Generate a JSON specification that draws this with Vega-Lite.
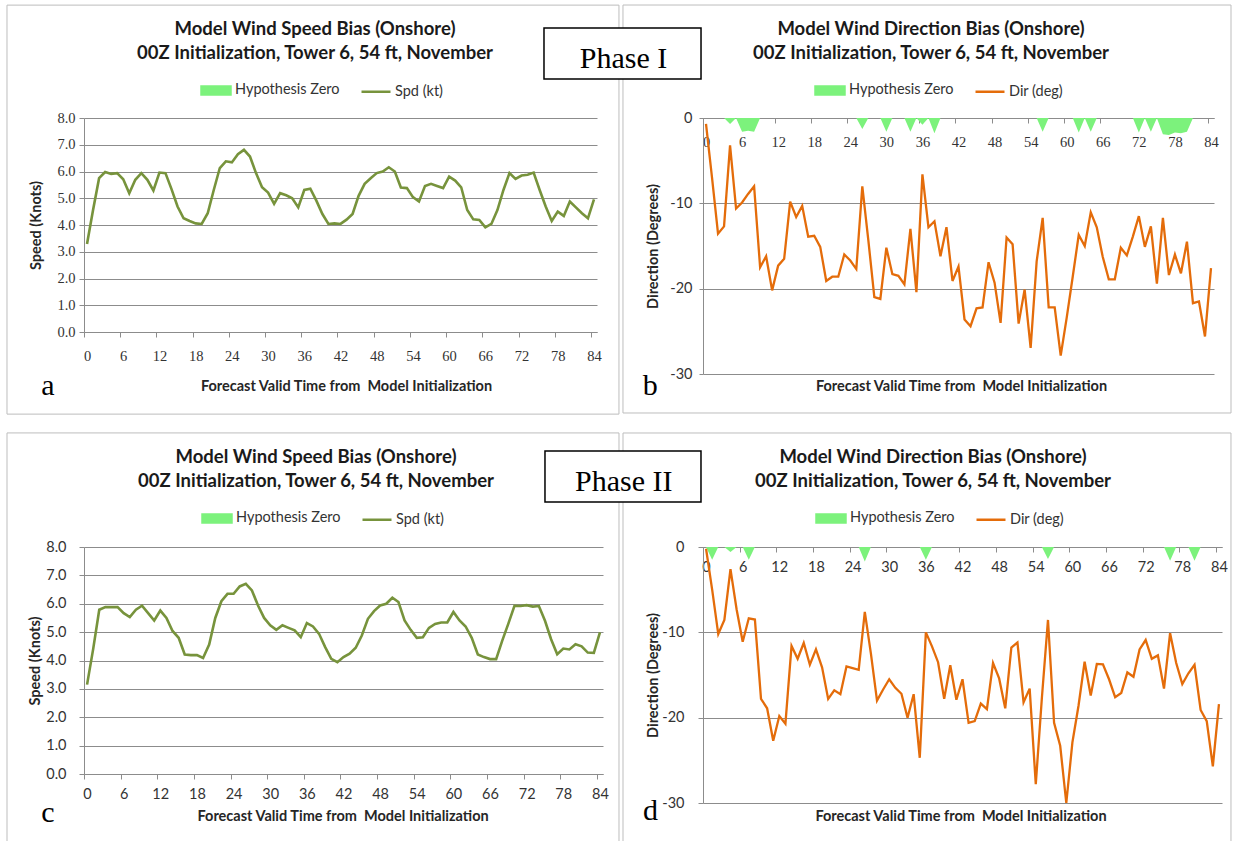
{
  "$schema": "https://vega.github.io/schema/vega-lite/v6.json",
  "autosize": "none",
  "padding": {"left": 84, "top": 118, "right": 1149, "bottom": 723},
  "background": "white",
  "columns": 2,
  "bounds": "flush",
  "spacing": {"row": 173, "column": 100},
  "config": {
    "view": {"stroke": null},
    "axis": {"gridColor": "#8C8C8C", "gridWidth": 1, "domainColor": "#8C8C8C", "tickColor": "#8C8C8C", "labelColor": "#333333", "titleColor": "#262626", "labelFont": "Lato", "titleFont": "Lato", "titleFontWeight": "bold", "titleFontSize": 14.5, "labelFontSize": 14.5, "labelFlush": false, "labelOverlap": false},
    "title": {"font": "Lato", "fontSize": 18.5, "fontWeight": "bold", "color": "#1a1a1a", "lineHeight": 24, "anchor": "middle", "frame": "group"},
    "legend": {"orient": "none", "direction": "horizontal", "title": null, "symbolSize": 841, "labelFont": "Lato", "labelFontSize": 14.5, "labelColor": "#333333", "labelOffset": 3, "columnPadding": 16, "padding": 0}
  },
  "datasets": {
    "A": [
      {"h":0,"spd":3.29},{"h":1,"spd":4.56},{"h":2,"spd":5.75},{"h":3,"spd":5.98},{"h":4,"spd":5.91},{"h":5,"spd":5.94},{"h":6,"spd":5.71},{"h":7,"spd":5.19},{"h":8,"spd":5.69},{"h":9,"spd":5.94},
      {"h":10,"spd":5.69},{"h":11,"spd":5.29},{"h":12,"spd":5.96},{"h":13,"spd":5.94},{"h":14,"spd":5.34},{"h":15,"spd":4.69},{"h":16,"spd":4.25},{"h":17,"spd":4.15},{"h":18,"spd":4.06},{"h":19,"spd":4.04},
      {"h":20,"spd":4.44},{"h":21,"spd":5.31},{"h":22,"spd":6.13},{"h":23,"spd":6.38},{"h":24,"spd":6.34},{"h":25,"spd":6.65},{"h":26,"spd":6.81},{"h":27,"spd":6.56},{"h":28,"spd":5.94},{"h":29,"spd":5.41},
      {"h":30,"spd":5.21},{"h":31,"spd":4.79},{"h":32,"spd":5.19},{"h":33,"spd":5.11},{"h":34,"spd":5.0},{"h":35,"spd":4.66},{"h":36,"spd":5.31},{"h":37,"spd":5.36},{"h":38,"spd":4.91},{"h":39,"spd":4.41},
      {"h":40,"spd":4.04},{"h":41,"spd":4.06},{"h":42,"spd":4.04},{"h":43,"spd":4.2},{"h":44,"spd":4.41},{"h":45,"spd":5.09},{"h":46,"spd":5.54},{"h":47,"spd":5.75},{"h":48,"spd":5.94},{"h":49,"spd":6.0},
      {"h":50,"spd":6.16},{"h":51,"spd":6.0},{"h":52,"spd":5.4},{"h":53,"spd":5.38},{"h":54,"spd":5.04},{"h":55,"spd":4.88},{"h":56,"spd":5.46},{"h":57,"spd":5.54},{"h":58,"spd":5.46},{"h":59,"spd":5.38},
      {"h":60,"spd":5.81},{"h":61,"spd":5.66},{"h":62,"spd":5.41},{"h":63,"spd":4.56},{"h":64,"spd":4.21},{"h":65,"spd":4.19},{"h":66,"spd":3.91},{"h":67,"spd":4.04},{"h":68,"spd":4.56},{"h":69,"spd":5.31},
      {"h":70,"spd":5.94},{"h":71,"spd":5.72},{"h":72,"spd":5.85},{"h":73,"spd":5.88},{"h":74,"spd":5.96},{"h":75,"spd":5.31},{"h":76,"spd":4.69},{"h":77,"spd":4.15},{"h":78,"spd":4.5},{"h":79,"spd":4.34},
      {"h":80,"spd":4.88},{"h":81,"spd":4.66},{"h":82,"spd":4.44},{"h":83,"spd":4.25},{"h":84,"spd":4.96}
    ],
    "B": [
      {"h":0,"dir":-0.7,"hz":0},{"h":1,"dir":-7.0,"hz":0},{"h":2,"dir":-13.55,"hz":0},{"h":3,"dir":-12.7,"hz":0},{"h":4,"dir":-3.2,"hz":-0.7},{"h":5,"dir":-10.6,"hz":0},{"h":6,"dir":-9.9,"hz":-1.6},{"h":7,"dir":-8.9,"hz":-1.5},{"h":8,"dir":-8.0,"hz":-1.6},{"h":9,"dir":-17.5,"hz":0},
      {"h":10,"dir":-16.2,"hz":0},{"h":11,"dir":-20.2,"hz":0},{"h":12,"dir":-17.3,"hz":0},{"h":13,"dir":-16.5,"hz":0},{"h":14,"dir":-9.8,"hz":0},{"h":15,"dir":-11.6,"hz":0},{"h":16,"dir":-10.3,"hz":0},{"h":17,"dir":-13.9,"hz":0},{"h":18,"dir":-13.8,"hz":0},{"h":19,"dir":-15.1,"hz":0},
      {"h":20,"dir":-19.1,"hz":0},{"h":21,"dir":-18.6,"hz":0},{"h":22,"dir":-18.6,"hz":0},{"h":23,"dir":-16.0,"hz":0},{"h":24,"dir":-16.7,"hz":0},{"h":25,"dir":-17.7,"hz":0},{"h":26,"dir":-8.0,"hz":-1.3},{"h":27,"dir":-14.3,"hz":0},{"h":28,"dir":-21.0,"hz":0},{"h":29,"dir":-21.2,"hz":0},
      {"h":30,"dir":-15.2,"hz":-1.6},{"h":31,"dir":-18.3,"hz":0},{"h":32,"dir":-18.5,"hz":0},{"h":33,"dir":-19.5,"hz":0},{"h":34,"dir":-13.0,"hz":-1.6},{"h":35,"dir":-20.4,"hz":0},{"h":36,"dir":-6.6,"hz":-0.8},{"h":37,"dir":-12.8,"hz":0},{"h":38,"dir":-12.1,"hz":-1.8},{"h":39,"dir":-16.2,"hz":0},
      {"h":40,"dir":-12.8,"hz":0},{"h":41,"dir":-19.1,"hz":0},{"h":42,"dir":-17.4,"hz":0},{"h":43,"dir":-23.6,"hz":0},{"h":44,"dir":-24.4,"hz":0},{"h":45,"dir":-22.3,"hz":0},{"h":46,"dir":-22.2,"hz":0},{"h":47,"dir":-16.9,"hz":0},{"h":48,"dir":-19.3,"hz":0},{"h":49,"dir":-24.0,"hz":0},
      {"h":50,"dir":-14.0,"hz":0},{"h":51,"dir":-14.8,"hz":0},{"h":52,"dir":-24.1,"hz":0},{"h":53,"dir":-20.1,"hz":0},{"h":54,"dir":-26.95,"hz":0},{"h":55,"dir":-16.8,"hz":0},{"h":56,"dir":-11.7,"hz":-1.6},{"h":57,"dir":-22.2,"hz":0},{"h":58,"dir":-22.2,"hz":0},{"h":59,"dir":-27.85,"hz":0},
      {"h":60,"dir":-23.4,"hz":0},{"h":61,"dir":-18.6,"hz":0},{"h":62,"dir":-13.7,"hz":-1.7},{"h":63,"dir":-15.0,"hz":0},{"h":64,"dir":-11.05,"hz":-1.6},{"h":65,"dir":-12.8,"hz":0},{"h":66,"dir":-16.3,"hz":0},{"h":67,"dir":-18.9,"hz":0},{"h":68,"dir":-18.9,"hz":0},{"h":69,"dir":-15.2,"hz":0},
      {"h":70,"dir":-16.1,"hz":0},{"h":71,"dir":-13.9,"hz":0},{"h":72,"dir":-11.5,"hz":-1.7},{"h":73,"dir":-15.1,"hz":0},{"h":74,"dir":-12.7,"hz":-1.6},{"h":75,"dir":-19.4,"hz":0},{"h":76,"dir":-11.7,"hz":-1.9},{"h":77,"dir":-18.4,"hz":-2.0},{"h":78,"dir":-16.0,"hz":-1.7},{"h":79,"dir":-18.2,"hz":-1.8},
      {"h":80,"dir":-14.5,"hz":-1.6},{"h":81,"dir":-21.7,"hz":0},{"h":82,"dir":-21.5,"hz":0},{"h":83,"dir":-25.6,"hz":0},{"h":84,"dir":-17.6,"hz":0}
    ],
    "C": [
      {"h":0,"spd":3.15},{"h":1,"spd":4.4},{"h":2,"spd":5.79},{"h":3,"spd":5.88},{"h":4,"spd":5.88},{"h":5,"spd":5.88},{"h":6,"spd":5.67},{"h":7,"spd":5.53},{"h":8,"spd":5.79},{"h":9,"spd":5.93},
      {"h":10,"spd":5.67},{"h":11,"spd":5.41},{"h":12,"spd":5.76},{"h":13,"spd":5.5},{"h":14,"spd":5.04},{"h":15,"spd":4.8},{"h":16,"spd":4.21},{"h":17,"spd":4.19},{"h":18,"spd":4.19},{"h":19,"spd":4.09},
      {"h":20,"spd":4.56},{"h":21,"spd":5.5},{"h":22,"spd":6.09},{"h":23,"spd":6.35},{"h":24,"spd":6.35},{"h":25,"spd":6.61},{"h":26,"spd":6.7},{"h":27,"spd":6.47},{"h":28,"spd":5.94},{"h":29,"spd":5.5},
      {"h":30,"spd":5.24},{"h":31,"spd":5.08},{"h":32,"spd":5.24},{"h":33,"spd":5.15},{"h":34,"spd":5.06},{"h":35,"spd":4.82},{"h":36,"spd":5.32},{"h":37,"spd":5.2},{"h":38,"spd":4.94},{"h":39,"spd":4.47},
      {"h":40,"spd":4.06},{"h":41,"spd":3.94},{"h":42,"spd":4.12},{"h":43,"spd":4.24},{"h":44,"spd":4.45},{"h":45,"spd":4.88},{"h":46,"spd":5.47},{"h":47,"spd":5.74},{"h":48,"spd":5.94},{"h":49,"spd":6.0},
      {"h":50,"spd":6.21},{"h":51,"spd":6.06},{"h":52,"spd":5.41},{"h":53,"spd":5.08},{"h":54,"spd":4.8},{"h":55,"spd":4.82},{"h":56,"spd":5.15},{"h":57,"spd":5.29},{"h":58,"spd":5.34},{"h":59,"spd":5.34},
      {"h":60,"spd":5.71},{"h":61,"spd":5.41},{"h":62,"spd":5.2},{"h":63,"spd":4.8},{"h":64,"spd":4.21},{"h":65,"spd":4.12},{"h":66,"spd":4.05},{"h":67,"spd":4.05},{"h":68,"spd":4.7},{"h":69,"spd":5.3},
      {"h":70,"spd":5.93},{"h":71,"spd":5.92},{"h":72,"spd":5.95},{"h":73,"spd":5.9},{"h":74,"spd":5.92},{"h":75,"spd":5.4},{"h":76,"spd":4.75},{"h":77,"spd":4.22},{"h":78,"spd":4.42},{"h":79,"spd":4.39},
      {"h":80,"spd":4.57},{"h":81,"spd":4.5},{"h":82,"spd":4.28},{"h":83,"spd":4.27},{"h":84,"spd":4.99}
    ],
    "D": [
      {"h":0,"dir":-0.2,"hz":0},{"h":1,"dir":-5.0,"hz":-1.5},{"h":2,"dir":-10.2,"hz":0},{"h":3,"dir":-8.55,"hz":0},{"h":4,"dir":-2.6,"hz":-0.6},{"h":5,"dir":-7.3,"hz":0},{"h":6,"dir":-11.1,"hz":0},{"h":7,"dir":-8.35,"hz":-1.5},{"h":8,"dir":-8.5,"hz":0},{"h":9,"dir":-17.8,"hz":0},
      {"h":10,"dir":-18.9,"hz":0},{"h":11,"dir":-22.7,"hz":0},{"h":12,"dir":-19.8,"hz":0},{"h":13,"dir":-20.7,"hz":0},{"h":14,"dir":-11.6,"hz":0},{"h":15,"dir":-13.1,"hz":0},{"h":16,"dir":-11.25,"hz":0},{"h":17,"dir":-13.8,"hz":0},{"h":18,"dir":-12.0,"hz":0},{"h":19,"dir":-14.1,"hz":0},
      {"h":20,"dir":-17.8,"hz":0},{"h":21,"dir":-16.8,"hz":0},{"h":22,"dir":-17.25,"hz":0},{"h":23,"dir":-14.0,"hz":0},{"h":24,"dir":-14.2,"hz":0},{"h":25,"dir":-14.4,"hz":0},{"h":26,"dir":-7.6,"hz":-1.7},{"h":27,"dir":-12.5,"hz":0},{"h":28,"dir":-18.0,"hz":0},{"h":29,"dir":-16.7,"hz":0},
      {"h":30,"dir":-15.5,"hz":0},{"h":31,"dir":-16.5,"hz":0},{"h":32,"dir":-17.2,"hz":0},{"h":33,"dir":-20.0,"hz":0},{"h":34,"dir":-17.25,"hz":0},{"h":35,"dir":-24.7,"hz":0},{"h":36,"dir":-10.0,"hz":-1.5},{"h":37,"dir":-11.65,"hz":0},{"h":38,"dir":-13.5,"hz":0},{"h":39,"dir":-17.8,"hz":0},
      {"h":40,"dir":-13.85,"hz":0},{"h":41,"dir":-17.9,"hz":0},{"h":42,"dir":-15.5,"hz":0},{"h":43,"dir":-20.6,"hz":0},{"h":44,"dir":-20.4,"hz":0},{"h":45,"dir":-18.35,"hz":0},{"h":46,"dir":-19.0,"hz":0},{"h":47,"dir":-13.6,"hz":0},{"h":48,"dir":-15.4,"hz":0},{"h":49,"dir":-18.9,"hz":0},
      {"h":50,"dir":-11.8,"hz":0},{"h":51,"dir":-11.2,"hz":0},{"h":52,"dir":-18.2,"hz":0},{"h":53,"dir":-16.6,"hz":0},{"h":54,"dir":-27.8,"hz":0},{"h":55,"dir":-17.7,"hz":0},{"h":56,"dir":-8.55,"hz":-1.4},{"h":57,"dir":-20.6,"hz":0},{"h":58,"dir":-23.3,"hz":0},{"h":59,"dir":-30.0,"hz":0},
      {"h":60,"dir":-22.9,"hz":0},{"h":61,"dir":-18.6,"hz":0},{"h":62,"dir":-13.45,"hz":0},{"h":63,"dir":-17.4,"hz":0},{"h":64,"dir":-13.7,"hz":0},{"h":65,"dir":-13.75,"hz":0},{"h":66,"dir":-15.5,"hz":0},{"h":67,"dir":-17.6,"hz":0},{"h":68,"dir":-17.1,"hz":0},{"h":69,"dir":-14.7,"hz":0},
      {"h":70,"dir":-15.2,"hz":0},{"h":71,"dir":-12.0,"hz":0},{"h":72,"dir":-10.9,"hz":0},{"h":73,"dir":-13.1,"hz":0},{"h":74,"dir":-12.7,"hz":0},{"h":75,"dir":-16.6,"hz":0},{"h":76,"dir":-10.1,"hz":-1.6},{"h":77,"dir":-13.6,"hz":0},{"h":78,"dir":-16.05,"hz":0},{"h":79,"dir":-14.8,"hz":0},
      {"h":80,"dir":-13.8,"hz":-1.6},{"h":81,"dir":-19.1,"hz":0},{"h":82,"dir":-20.4,"hz":0},{"h":83,"dir":-25.7,"hz":0},{"h":84,"dir":-18.4,"hz":0}
    ]
  },
  "concat": [
    {
      "width": 513, "height": 214,
      "data": {"name": "A"},
      "title": {"text": ["Model Wind Speed Bias (Onshore)", "00Z Initialization, Tower 6, 54 ft, November"], "dx": -25.5, "offset": 13, "dy": 71},
      "layer": [
        {
          "data": {"values": [{}]},
          "mark": {"type": "rect", "fill": null, "stroke": "#BDBDBD", "strokeWidth": 1, "clip": false},
          "encoding": {
            "x": {"datum": -13.26, "type": "quantitative"}, "x2": {"datum": 88.14},
            "y": {"datum": 12.22, "type": "quantitative"}, "y2": {"datum": -3.07}
          }
        },
        {
          "mark": {"type": "line", "strokeWidth": 2.6, "clip": false},
          "encoding": {
            "x": {"field": "h", "type": "quantitative", "title": "Forecast Valid Time from\u00a0 Model Initialization",
              "scale": {"domain": [-0.5, 84.5], "nice": false, "zero": false},
              "axis": {"values": [-0.5,5.5,11.5,17.5,23.5,29.5,35.5,41.5,47.5,53.5,59.5,65.5,71.5,77.5,83.5], "tickCount": 100, "labelExpr": "'' + (datum.value + 0.5)", "labelOffset": 3, "labelOverlap": false, "grid": false, "tickSize": 5, "labelPadding": 12, "labelFont": "Liberation Serif", "labelFontSize": 14.5, "titleX": 262, "titleY": 54, "titleBaseline": "middle", "titleAlign": "center"}},
            "y": {"field": "spd", "type": "quantitative", "title": "Speed (Knots)",
              "scale": {"domain": [0, 8], "nice": false},
              "axis": {"values": [0,1,2,3,4,5,6,7,8], "tickCount": 100, "format": ".1f", "labelOverlap": false, "grid": true, "tickSize": 5, "labelPadding": 4, "labelFont": "Liberation Serif", "labelFontSize": 14.5, "titleX": -47.5, "titleY": 107, "titleAngle": -90, "titleAlign": "center", "titleBaseline": "middle"}},
            "color": {"datum": "Spd (kt)", "type": "nominal",
              "scale": {"domain": ["Hypothesis Zero", "Spd (kt)"], "range": ["#7CF27C", "#77933C"]},
              "legend": {"legendX": 116, "legendY": -44,
                "encode": {"symbols": {"update": {
                  "shape": {"signal": "datum.value === 'Hypothesis Zero' ? 'M-1,-0.28H1V0.28H-1Z' : 'M-1,0H1'"},
                  "fill": {"signal": "datum.value === 'Hypothesis Zero' ? '#7CF27C' : 'transparent'"},
                  "stroke": {"signal": "datum.value === 'Hypothesis Zero' ? 'transparent' : '#77933C'"},
                  "strokeWidth": {"value": 2.5}, "opacity": {"value": 1}}}}}}
          }
        },
        {
          "data": {"values": [{}]},
          "mark": {"type": "text", "font": "Liberation Serif", "fontSize": 30, "baseline": "alphabetic", "align": "center", "color": "#000000", "clip": false},
          "encoding": {"x": {"datum": -6.46, "type": "quantitative"}, "y": {"datum": -2.355, "type": "quantitative"}, "text": {"value": "a"}}
        }
      ]
    },
    {
      "width": 511, "height": 256,
      "data": {"name": "B"},
      "title": {"text": ["Model Wind Direction Bias (Onshore)", "00Z Initialization, Tower 6, 54 ft, November"], "dx": -27.5, "offset": 13, "dy": 71},
      "layer": [
        {
          "data": {"values": [{}]},
          "mark": {"type": "rect", "fill": null, "stroke": "#BDBDBD", "strokeWidth": 1, "clip": false},
          "encoding": {
            "x": {"datum": -13.81, "type": "quantitative"}, "x2": {"datum": 87.33},
            "y": {"datum": 13.24, "type": "quantitative"}, "y2": {"datum": -34.57}
          }
        },
        {
          "mark": {"type": "area", "opacity": 1, "clip": false},
          "encoding": {
            "x": {"field": "h", "type": "quantitative", "title": "Forecast Valid Time from\u00a0 Model Initialization"},
            "y": {"field": "hz", "type": "quantitative", "title": "Direction (Degrees)"},
            "y2": {"datum": 0},
            "color": {"datum": "Hypothesis Zero", "type": "nominal"}
          }
        },
        {
          "mark": {"type": "line", "strokeWidth": 2.3, "clip": false},
          "encoding": {
            "x": {"field": "h", "type": "quantitative", "title": "Forecast Valid Time from\u00a0 Model Initialization",
              "scale": {"domain": [-0.5, 84.5], "nice": false, "zero": false},
              "axis": {"offset": -256, "values": [-0.5,5.5,11.5,17.5,23.5,29.5,35.5,41.5,47.5,53.5,59.5,65.5,71.5,77.5,83.5], "tickCount": 100, "labelExpr": "'' + (datum.value + 0.5)", "labelOffset": 3, "labelOverlap": false, "grid": false, "tickSize": 5, "labelPadding": 12, "labelFont": "Liberation Serif", "labelFontSize": 14.5, "titleX": 258, "titleY": 268, "titleBaseline": "middle", "titleAlign": "center"}},
            "y": {"field": "dir", "type": "quantitative", "title": "Direction (Degrees)",
              "scale": {"domain": [-30, 0], "nice": false, "zero": false},
              "axis": {"values": [-30,-20,-10,0], "tickCount": 100, "labelExpr": "datum.value == 0 ? '0' : '-' + abs(datum.value)", "labelOverlap": false, "grid": true, "tickSize": 4, "labelPadding": 7, "labelFontSize": 14.5, "titleX": -50, "titleY": 128, "titleAngle": -90, "titleAlign": "center", "titleBaseline": "middle"}},
            "color": {"datum": "Dir (deg)", "type": "nominal",
              "scale": {"domain": ["Hypothesis Zero", "Dir (deg)"], "range": ["#7CF27C", "#E46C0A"]},
              "legend": {"legendX": 111, "legendY": -44,
                "encode": {"symbols": {"update": {
                  "shape": {"signal": "datum.value === 'Hypothesis Zero' ? 'M-1,-0.28H1V0.28H-1Z' : 'M-1,0H1'"},
                  "fill": {"signal": "datum.value === 'Hypothesis Zero' ? '#7CF27C' : 'transparent'"},
                  "stroke": {"signal": "datum.value === 'Hypothesis Zero' ? 'transparent' : '#E46C0A'"},
                  "strokeWidth": {"value": 2.5}, "opacity": {"value": 1}}}}}}
          }
        },
        {
          "data": {"values": [{}]},
          "mark": {"type": "rect", "fill": "white", "stroke": "#000000", "strokeWidth": 1.5, "clip": false},
          "encoding": {
            "x": {"datum": -26.95, "type": "quantitative"}, "x2": {"datum": -0.83},
            "y": {"datum": 10.55, "type": "quantitative"}, "y2": {"datum": 4.57}
          }
        },
        {
          "data": {"values": [{}]},
          "mark": {"type": "text", "font": "Liberation Serif", "fontSize": 30, "baseline": "alphabetic", "align": "center", "color": "#000000", "clip": false},
          "encoding": {"x": {"datum": -13.72, "type": "quantitative"}, "y": {"datum": 5.82, "type": "quantitative"}, "text": {"value": "Phase I"}}
        },
        {
          "data": {"values": [{}]},
          "mark": {"type": "text", "font": "Liberation Serif", "fontSize": 30, "baseline": "alphabetic", "align": "center", "color": "#000000", "clip": false},
          "encoding": {"x": {"datum": -9.27, "type": "quantitative"}, "y": {"datum": -32.46, "type": "quantitative"}, "text": {"value": "b"}}
        }
      ]
    },
    {
      "width": 519, "height": 227,
      "data": {"name": "C"},
      "title": {"text": ["Model Wind Speed Bias (Onshore)", "00Z Initialization, Tower 6, 54 ft, November"], "dx": -27.5, "offset": 13, "dy": 71},
      "layer": [
        {
          "data": {"values": [{}]},
          "mark": {"type": "rect", "fill": null, "stroke": "#BDBDBD", "strokeWidth": 1, "clip": false},
          "encoding": {
            "x": {"datum": -13.11, "type": "quantitative"}, "x2": {"datum": 87.12},
            "y": {"datum": 12.02, "type": "quantitative"}, "y2": {"datum": -2.5}
          }
        },
        {
          "mark": {"type": "line", "strokeWidth": 2.6, "clip": false},
          "encoding": {
            "x": {"field": "h", "type": "quantitative", "title": "Forecast Valid Time from\u00a0 Model Initialization",
              "scale": {"domain": [-0.5, 84.5], "nice": false, "zero": false},
              "axis": {"values": [-0.5,5.5,11.5,17.5,23.5,29.5,35.5,41.5,47.5,53.5,59.5,65.5,71.5,77.5,83.5], "tickCount": 100, "labelExpr": "'' + (datum.value + 0.5)", "labelOffset": 3, "labelOverlap": false, "grid": false, "tickSize": 5, "labelPadding": 8, "labelFontSize": 14.5, "titleX": 258.6, "titleY": 42.7, "titleBaseline": "middle", "titleAlign": "center"}},
            "y": {"field": "spd", "type": "quantitative", "title": "Speed (Knots)",
              "scale": {"domain": [0, 8], "nice": false},
              "axis": {"values": [0,1,2,3,4,5,6,7,8], "tickCount": 100, "format": ".1f", "labelOverlap": false, "grid": true, "tickSize": 5, "labelPadding": 13, "labelFontSize": 14.5, "titleX": -49, "titleY": 113.5, "titleAngle": -90, "titleAlign": "center", "titleBaseline": "middle"}},
            "color": {"datum": "Spd (kt)", "type": "nominal",
              "scale": {"domain": ["Hypothesis Zero", "Spd (kt)"], "range": ["#7CF27C", "#77933C"]},
              "legend": {"legendX": 117, "legendY": -45,
                "encode": {"symbols": {"update": {
                  "shape": {"signal": "datum.value === 'Hypothesis Zero' ? 'M-1,-0.28H1V0.28H-1Z' : 'M-1,0H1'"},
                  "fill": {"signal": "datum.value === 'Hypothesis Zero' ? '#7CF27C' : 'transparent'"},
                  "stroke": {"signal": "datum.value === 'Hypothesis Zero' ? 'transparent' : '#77933C'"},
                  "strokeWidth": {"value": 2.5}, "opacity": {"value": 1}}}}}}
          }
        },
        {
          "data": {"values": [{}]},
          "mark": {"type": "text", "font": "Liberation Serif", "fontSize": 30, "baseline": "alphabetic", "align": "center", "color": "#000000", "clip": false},
          "encoding": {"x": {"datum": -6.4, "type": "quantitative"}, "y": {"datum": -1.68, "type": "quantitative"}, "text": {"value": "c"}}
        }
      ]
    },
    {
      "width": 519, "height": 256,
      "data": {"name": "D"},
      "title": {"text": ["Model Wind Direction Bias (Onshore)", "00Z Initialization, Tower 6, 54 ft, November"], "dx": -29.5, "offset": 13, "dy": 71},
      "layer": [
        {
          "data": {"values": [{}]},
          "mark": {"type": "rect", "fill": null, "stroke": "#BDBDBD", "strokeWidth": 1, "clip": false},
          "encoding": {
            "x": {"datum": -13.6, "type": "quantitative"}, "x2": {"datum": 85.97},
            "y": {"datum": 13.36, "type": "quantitative"}, "y2": {"datum": -34.92}
          }
        },
        {
          "mark": {"type": "area", "opacity": 1, "clip": false},
          "encoding": {
            "x": {"field": "h", "type": "quantitative", "title": "Forecast Valid Time from\u00a0 Model Initialization"},
            "y": {"field": "hz", "type": "quantitative", "title": "Direction (Degrees)"},
            "y2": {"datum": 0},
            "color": {"datum": "Hypothesis Zero", "type": "nominal"}
          }
        },
        {
          "mark": {"type": "line", "strokeWidth": 2.3, "clip": false},
          "encoding": {
            "x": {"field": "h", "type": "quantitative", "title": "Forecast Valid Time from\u00a0 Model Initialization",
              "scale": {"domain": [-0.5, 84.5], "nice": false, "zero": false},
              "axis": {"offset": -256, "values": [-0.5,5.5,11.5,17.5,23.5,29.5,35.5,41.5,47.5,53.5,59.5,65.5,71.5,77.5,83.5], "tickCount": 100, "labelExpr": "'' + (datum.value + 0.5)", "labelOffset": 3, "labelOverlap": false, "grid": false, "tickSize": 5, "labelPadding": 8, "labelFontSize": 14.5, "titleX": 257.5, "titleY": 269.7, "titleBaseline": "middle", "titleAlign": "center"}},
            "y": {"field": "dir", "type": "quantitative", "title": "Direction (Degrees)",
              "scale": {"domain": [-30, 0], "nice": false, "zero": false},
              "axis": {"values": [-30,-20,-10,0], "tickCount": 100, "labelExpr": "datum.value == 0 ? '0' : '-' + abs(datum.value)", "labelOverlap": false, "grid": true, "tickSize": 5, "labelPadding": 14, "labelFontSize": 14.5, "titleX": -50, "titleY": 128, "titleAngle": -90, "titleAlign": "center", "titleBaseline": "middle"}},
            "color": {"datum": "Dir (deg)", "type": "nominal",
              "scale": {"domain": ["Hypothesis Zero", "Dir (deg)"], "range": ["#7CF27C", "#E46C0A"]},
              "legend": {"legendX": 112, "legendY": -45,
                "encode": {"symbols": {"update": {
                  "shape": {"signal": "datum.value === 'Hypothesis Zero' ? 'M-1,-0.28H1V0.28H-1Z' : 'M-1,0H1'"},
                  "fill": {"signal": "datum.value === 'Hypothesis Zero' ? '#7CF27C' : 'transparent'"},
                  "stroke": {"signal": "datum.value === 'Hypothesis Zero' ? 'transparent' : '#E46C0A'"},
                  "strokeWidth": {"value": 2.5}, "opacity": {"value": 1}}}}}}
          }
        },
        {
          "data": {"values": [{}]},
          "mark": {"type": "rect", "fill": "white", "stroke": "#000000", "strokeWidth": 1.5, "clip": false},
          "encoding": {
            "x": {"datum": -26.38, "type": "quantitative"}, "x2": {"datum": -0.83},
            "y": {"datum": 11.25, "type": "quantitative"}, "y2": {"datum": 5.27}
          }
        },
        {
          "data": {"values": [{}]},
          "mark": {"type": "text", "font": "Liberation Serif", "fontSize": 30, "baseline": "alphabetic", "align": "center", "color": "#000000", "clip": false},
          "encoding": {"x": {"datum": -13.49, "type": "quantitative"}, "y": {"datum": 6.56, "type": "quantitative"}, "text": {"value": "Phase II"}}
        },
        {
          "data": {"values": [{}]},
          "mark": {"type": "text", "font": "Liberation Serif", "fontSize": 30, "baseline": "alphabetic", "align": "center", "color": "#000000", "clip": false},
          "encoding": {"x": {"datum": -9.1, "type": "quantitative"}, "y": {"datum": -31.99, "type": "quantitative"}, "text": {"value": "d"}}
        }
      ]
    }
  ],
  "resolve": {"scale": {"x": "independent", "y": "independent", "color": "independent"}, "legend": {"color": "independent"}}
}
